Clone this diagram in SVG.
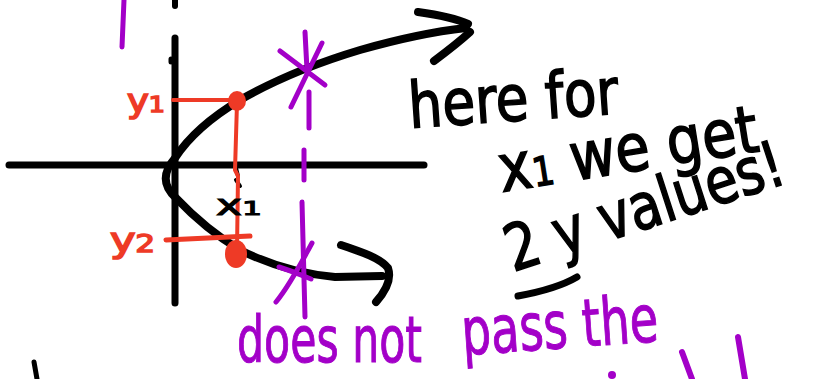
<svg xmlns="http://www.w3.org/2000/svg" width="824" height="379" viewBox="0 0 824 379">
<style>
.k{fill:none;stroke:#000;stroke-linecap:round;stroke-linejoin:round}
.r{fill:none;stroke:#ee3a26;stroke-linecap:round;stroke-linejoin:round}
.p{fill:none;stroke:#a300c8;stroke-linecap:round;stroke-linejoin:round}
.t{font-family:"Liberation Sans Narrow","DejaVu Sans Condensed","Liberation Sans",sans-serif;font-weight:normal}
</style>
<rect width="824" height="379" fill="#fff"/>
<g id="axes">
<path class="k" stroke-width="7" d="M9,165 L424,165"/>
<path class="k" stroke-width="7" d="M175,38 L175,303"/>
<path class="k" stroke-width="6" d="M175,0 L175,6"/>
<path class="k" stroke-width="5" d="M171,59 L171,62"/>
<path class="k" stroke-width="5" d="M34,362 L37,379"/>
</g>
<g id="curve">
<path class="k" stroke-width="8" d="M466,28 C430,32 395,40 360,50 C320,62 280,77 240,100 C215,115 190,135 175,158 C163,172 162,185 176,198 C195,218 215,235 240,250 C270,265 300,274 335,277 L382,276"/>
<path class="k" stroke-width="8" d="M418,12 C440,15 455,18 468,24"/>
<path class="k" stroke-width="8" d="M470,32 C458,43 446,52 434,61"/>
<path class="k" stroke-width="8" d="M341,245 C362,252 380,258 388,268 C392,280 385,292 376,302"/>
<path class="k" stroke-width="4" d="M236,168 L238,176 M236,180 L240,186"/>
</g>
<g id="red">
<path class="r" stroke-width="4" d="M173,100 L237,100"/>
<path class="r" stroke-width="4" d="M237,103 L235,170 L238,176 L237,250"/>
<path class="r" stroke-width="5" d="M166,240 L250,236"/>
<ellipse cx="237" cy="101" rx="9" ry="10" fill="#ee3a26"/>
<ellipse cx="236" cy="254" rx="11" ry="14" fill="#ee3a26"/>
<text class="t" x="127" y="112" font-size="32" fill="#ee3a26" stroke="#ee3a26" stroke-width="1.5" textLength="38" lengthAdjust="spacingAndGlyphs">y<tspan font-size="22">1</tspan></text>
<text class="t" x="110" y="252" font-size="34" fill="#ee3a26" stroke="#ee3a26" stroke-width="1.5" textLength="45" lengthAdjust="spacingAndGlyphs">y<tspan font-size="24">2</tspan></text>
</g>
<g id="purple">
<path class="p" stroke-width="5" d="M124,0 L122,47"/>
<path class="p" stroke-width="5" d="M280,51 L325,85 M322,43 L291,107"/>
<path class="p" stroke-width="5" d="M305,32 L307,70 M309,92 L309,128 M304,150 L304,180 M302,202 L305,317"/>
<path class="p" stroke-width="5" d="M312,243 C300,265 290,285 276,302 M279,267 C295,272 303,276 311,279"/>
<path class="p" stroke-width="6" d="M682,352 L692,379 M738,337 L745,379"/>
<circle cx="612" cy="375" r="4" fill="#a300c8"/>
<text class="t" x="237" y="362" font-size="64" fill="#a300c8" stroke="#a300c8" stroke-width="1" textLength="185" lengthAdjust="spacingAndGlyphs">does not</text>
<text class="t" x="463" y="355" font-size="66" fill="#a300c8" stroke="#a300c8" stroke-width="1" textLength="197" lengthAdjust="spacingAndGlyphs" transform="rotate(-4 463 355)">pass the</text>
</g>
<g id="notes">
<text class="t" x="410" y="128" font-size="64" fill="#000" stroke="#000" stroke-width="1.5" textLength="210" lengthAdjust="spacingAndGlyphs" transform="rotate(-4 410 128)">here for</text>
<text class="t" x="502" y="192" font-size="66" fill="#000" stroke="#000" stroke-width="1.5" textLength="262" lengthAdjust="spacingAndGlyphs" transform="rotate(-9 502 192)">x<tspan font-size="40">1</tspan> we get</text>
<text class="t" x="513" y="272" font-size="64" fill="#000" stroke="#000" stroke-width="1.5" textLength="290" lengthAdjust="spacingAndGlyphs" transform="rotate(-18 513 272)">2 y values!</text>
<path class="k" stroke-width="7" d="M518,296 C540,292 560,287 577,277"/>
<text class="t" x="216" y="215" font-size="28" fill="#000" stroke="#000" stroke-width="1" textLength="46" lengthAdjust="spacingAndGlyphs">x<tspan font-size="20">1</tspan></text>
</g>
</svg>
